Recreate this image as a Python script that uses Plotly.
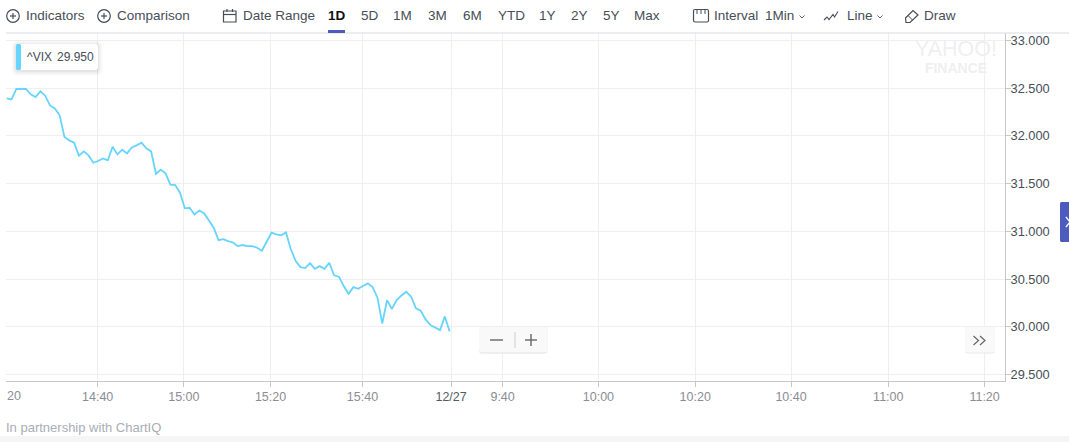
import plotly.graph_objects as go

# ---------- data ----------
vix_values = [
    32.394, 32.383, 32.492, 32.492, 32.492, 32.436, 32.408, 32.467, 32.422, 32.320,
    32.289, 32.216, 31.989, 31.954, 31.929, 31.793, 31.838, 31.796, 31.719, 31.737,
    31.765, 31.744, 31.887, 31.807, 31.856, 31.817, 31.880, 31.901, 31.929, 31.870,
    31.838, 31.604, 31.646, 31.608, 31.489, 31.485, 31.405, 31.241, 31.247, 31.177,
    31.219, 31.191, 31.114, 31.038, 30.908, 30.919, 30.898, 30.884, 30.846, 30.857,
    30.846, 30.846, 30.829, 30.797, 30.891, 30.986, 30.968, 30.958, 30.989, 30.815,
    30.692, 30.626, 30.615, 30.668, 30.608, 30.636, 30.608, 30.671, 30.539, 30.525,
    30.427, 30.346, 30.416, 30.399, 30.427, 30.455, 30.416, 30.308, 30.035, 30.280,
    30.186, 30.280, 30.329, 30.367, 30.315, 30.193, 30.168, 30.077, 30.018, 29.993,
    29.965, 30.109, 29.950,
]
bar_index = list(range(len(vix_values)))

x_tick_positions = [18.9, 36.8, 54.8, 73.9, 92.3, 103.0, 122.9, 143.0, 162.9, 183.1, 203.1]
x_tick_labels = ["14:40", "15:00", "15:20", "15:40", "12/27", "9:40", "10:00", "10:20", "10:40", "11:00", "11:20"]
y_tick_values = [29.5, 30.0, 30.5, 31.0, 31.5, 32.0, 32.5, 33.0]

# ---------- styles ----------
W, H = 1069, 442
L, R, T, B = 6, 1005, 33, 381
FONT = "Liberation Sans"
INK = "#464e56"
LINE = "#66d4ff"
GRID = "#efefef"
AXIS = "#c6c6c6"
INDIGO = "#4d5bbf"
BAR_SIZE = 13.5


def px(x):
    return (x - L) / (R - L)


def py(y):
    return 1 - (y - T) / (B - T)


shapes = []
annotations = []


def text(x, y, s, size=BAR_SIZE, color=INK, anchor="left", bold=False):
    annotations.append(dict(
        x=px(x), y=py(y), xref="paper", yref="paper", xanchor=anchor, yanchor="middle",
        text=f"<b>{s}</b>" if bold else s, showarrow=False, borderpad=0, borderwidth=0,
        font=dict(family=FONT, size=size, color=color)))


def pathstr(points, close=False):
    s = "M" + " L".join(f"{px(a):.5f},{py(b):.5f}" for a, b in points)
    return s + (" Z" if close else "")


def polyline(points, color=INK, width=1.2, close=False, fill=None):
    shapes.append(dict(type="path", xref="paper", yref="paper", path=pathstr(points, close),
                       line=dict(color=color, width=width), fillcolor=fill, layer="above"))


def rect(x0, y0, x1, y1, fill=None, color=None, width=0, layer="above"):
    shapes.append(dict(type="rect", xref="paper", yref="paper", x0=px(x0), x1=px(x1), y0=py(y0), y1=py(y1),
                       fillcolor=fill, line=dict(color=color, width=width), layer=layer))


def circle(cx, cy, r, color=INK, width=1.2):
    shapes.append(dict(type="circle", xref="paper", yref="paper", x0=px(cx - r), x1=px(cx + r),
                       y0=py(cy + r), y1=py(cy - r), line=dict(color=color, width=width), layer="above"))


def rounded(x0, y0, x1, y1, r, fill, color=None, width=0):
    k = 0.3 * r
    def P(a, b):
        return f"{px(a):.5f},{py(b):.5f}"
    d = (f"M{P(x0 + r, y0)} L{P(x1 - r, y0)} C{P(x1 - k, y0)} {P(x1, y0 + k)} {P(x1, y0 + r)} "
         f"L{P(x1, y1 - r)} C{P(x1, y1 - k)} {P(x1 - k, y1)} {P(x1 - r, y1)} "
         f"L{P(x0 + r, y1)} C{P(x0 + k, y1)} {P(x0, y1 - k)} {P(x0, y1 - r)} "
         f"L{P(x0, y0 + r)} C{P(x0, y0 + k)} {P(x0 + k, y0)} {P(x0 + r, y0)} Z")
    shapes.append(dict(type="path", xref="paper", yref="paper", path=d, fillcolor=fill,
                       line=dict(color=color, width=width), layer="above"))


# ---------- toolbar ----------
rect(L, 32.5, W, 33.5, fill="#d9dce3")
for cx in (13, 104):
    circle(cx, 16, 6.3)
    polyline([(cx - 3, 16), (cx + 3, 16)])
    polyline([(cx, 13), (cx, 19)])
text(26, 16, "Indicators")
text(117, 16, "Comparison")

rect(223.5, 11, 236, 22, color=INK, width=1.2)
polyline([(223.5, 14.5), (236, 14.5)])
polyline([(227, 9), (227, 12)])
polyline([(232.5, 9), (232.5, 12)])
text(243, 16, "Date Range")

text(328, 16, "1D", color="#111111", bold=True)
rect(328, 30, 345, 33, fill=INDIGO)
range_labels = [("5D", 361), ("1M", 393), ("3M", 428), ("6M", 463), ("YTD", 498),
                ("1Y", 539), ("2Y", 571), ("5Y", 603), ("Max", 634)]
for label, x in range_labels:
    text(x, 16, label)

rounded(693.5, 9.5, 708.5, 22, 1.5, None, INK, 1.2)
for x in (697, 701, 705):
    polyline([(x, 10), (x, 14)], width=1)
text(714, 16, "Interval")
text(765, 16, "1Min")
polyline([(799.5, 15.5), (802, 18), (804.5, 15.5)], width=0.9)

polyline([(824, 20), (827, 17), (829, 19.5), (833, 14.5), (834.5, 17), (838, 11.5)], width=1.1)
text(847, 16, "Line")
polyline([(877.5, 15.5), (880, 18), (882.5, 15.5)], width=0.9)

polyline([(905.5, 18), (913, 10.5), (918, 15), (910, 22.5), (906, 22.5)], close=True)
polyline([(908, 15.5), (912.5, 20)], width=1)
text(924, 16, "Draw")

# ---------- watermark ----------
annotations.append(dict(
    x=px(956), y=py(56), xref="paper", yref="paper", xanchor="center", yanchor="middle",
    showarrow=False, borderpad=0, borderwidth=0,
    text='<span style="font-size:21.5px">YAHOO!</span><br><span style="font-size:14px"><b>FINANCE</b></span>',
    font=dict(family=FONT, size=12.7, color="#efefef")))

# ---------- readout ----------
for grow, alpha in ((5, 0.012), (4, 0.015), (3, 0.018), (2, 0.022), (1, 0.03)):
    rounded(16 - grow, 44 - grow + 1, 98 + grow, 70 + grow + 1, 3 + grow, f"rgba(0,0,0,{alpha})")
rounded(16, 44, 98, 70, 3, "#ffffff")
rounded(16, 44, 21, 70, 2, LINE)
text(26.5, 57, "^VIX", size=12)
text(57, 57, "29.950", size=12)

# ---------- zoom controls ----------
rounded(479, 327, 547.5, 353.5, 3, "#e4e4e4")
rounded(479, 327, 547.5, 352.5, 3, "#f9f9f9")
polyline([(490, 340), (503, 340)], color="#666666", width=1.4)
polyline([(515, 332), (515, 348)], color="#cfcfcf", width=1)
polyline([(525, 340), (537, 340)], color="#666666", width=1.4)
polyline([(531, 334), (531, 346)], color="#666666", width=1.4)

rounded(965, 327, 995, 353.5, 3, "#e8e8e8")
rounded(965, 327, 995, 352.5, 3, "#f9f9f9")
polyline([(973.5, 336), (978.5, 340.5), (973.5, 345)], color="#666666", width=1.2)
polyline([(980, 336), (985, 340.5), (980, 345)], color="#666666", width=1.2)

# ---------- side tab, footer ----------
rounded(1060, 202, 1075, 242, 2, INDIGO)
polyline([(1066, 217), (1070, 222), (1066, 227)], color="#ffffff", width=1.4)
rect(0, 436, W, H, fill="#f5f5f5")
text(6, 427, "In partnership with ChartIQ", size=13, color="#a9adb5")
text(6.5, 396, "20", size=12.5, color="#8a8d93")

# ---------- figure ----------
fig = go.Figure(go.Scatter(
    x=bar_index, y=vix_values, mode="lines", line=dict(color=LINE, width=1.8),
    hoverinfo="skip", showlegend=False, cliponaxis=True))

tick_text = [f'<span style="color:#555a61">{t}</span>' if t == "12/27" else t for t in x_tick_labels]

fig.update_layout(
    width=W, height=H, autosize=False, paper_bgcolor="white", plot_bgcolor="white",
    margin=dict(l=L, r=W - R, t=T, b=H - B, pad=0),
    font=dict(family=FONT, size=13, color=INK),
    xaxis=dict(
        range=[-0.14, 207.34], tickmode="array", tickvals=x_tick_positions, ticktext=tick_text,
        showgrid=True, gridcolor=GRID, gridwidth=1, zeroline=False, showline=True, linecolor=AXIS,
        linewidth=1, ticks="outside", ticklen=5, tickcolor=AXIS, tickwidth=1,
        tickfont=dict(family=FONT, size=12.5, color="#8a8d93"), ticklabelstandoff=-1,
    ),
    yaxis=dict(
        range=[29.432, 33.079], side="right", tickmode="array", tickvals=y_tick_values,
        ticktext=[f"{v:.3f}" for v in y_tick_values],
        showgrid=True, gridcolor=GRID, gridwidth=1, zeroline=False, showline=True, linecolor=AXIS,
        linewidth=1, ticks="outside", ticklen=5, tickcolor=AXIS, tickwidth=1,
        tickfont=dict(family=FONT, size=12.8, color=INK), ticklabelstandoff=-3,
    ),
    shapes=shapes, annotations=annotations,
)

fig.write_html("out.html", config={"displayModeBar": False},
               post_script="document.body.style.margin='0';document.body.style.overflow='hidden';")
